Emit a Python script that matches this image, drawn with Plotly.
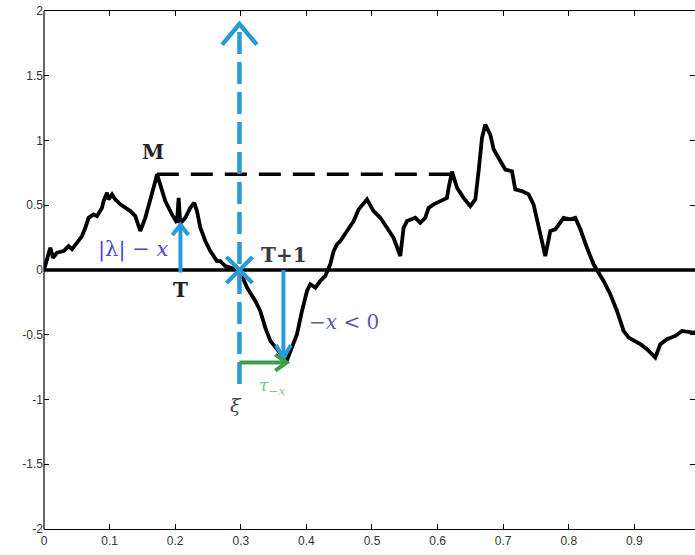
import plotly.graph_objects as go
import math

# ---- data: Brownian path ----
path_t = [0.0, 0.0096, 0.0137, 0.0198, 0.0299, 0.0375, 0.0427, 0.0503, 0.0579, 0.0630,
          0.0680, 0.0756, 0.0808, 0.0884, 0.0909, 0.0960, 0.0985, 0.1037, 0.1087, 0.1163,
          0.1239, 0.1316, 0.1392, 0.1468, 0.1544, 0.1620, 0.1697, 0.1723, 0.1773, 0.1849,
          0.1951, 0.2027, 0.2052, 0.2078, 0.2154, 0.2230, 0.2291, 0.2332, 0.2383, 0.2459,
          0.2535, 0.2637, 0.2688, 0.2764, 0.2840, 0.2980,
          0.3095, 0.3221, 0.3297, 0.3373, 0.3450, 0.3576, 0.3690, 0.3780, 0.3857, 0.3933,
          0.4009, 0.4059, 0.4136, 0.4212, 0.4288, 0.4364, 0.4415, 0.4466, 0.4517, 0.4619,
          0.4720, 0.4796, 0.4924, 0.5024, 0.5127, 0.5229, 0.5329, 0.5431, 0.5482, 0.5534,
          0.5660, 0.5736, 0.5812, 0.5863, 0.5939, 0.6041, 0.6143, 0.6168, 0.6220, 0.6296,
          0.6396, 0.6498, 0.6575, 0.6625, 0.6677, 0.6727, 0.6803, 0.6854, 0.6955, 0.7032,
          0.7134, 0.7184, 0.7287, 0.7387, 0.7463, 0.7540, 0.7642, 0.7718, 0.7794, 0.7921,
          0.8023, 0.8099, 0.8175, 0.8277, 0.8378, 0.8530, 0.8633, 0.8735, 0.8835, 0.8912,
          0.9091, 0.9192, 0.9319, 0.9396, 0.9497, 0.9624, 0.9726, 0.9902, 1.0]
path_w = [0.0, 0.172, 0.095, 0.133, 0.146, 0.185, 0.160, 0.210, 0.262, 0.326,
          0.403, 0.429, 0.416, 0.480, 0.532, 0.596, 0.545, 0.584, 0.545, 0.507,
          0.480, 0.455, 0.416, 0.301, 0.403, 0.532, 0.686, 0.740, 0.661, 0.532,
          0.429, 0.365, 0.557, 0.360, 0.403, 0.480, 0.519, 0.455, 0.326, 0.224,
          0.146, 0.069, 0.069, 0.031, 0.018, 0.0,
          -0.136, -0.239, -0.316, -0.445, -0.547, -0.625, -0.715, -0.599, -0.496, -0.316,
          -0.162, -0.110, -0.136, -0.085, -0.046, 0.044, 0.146, 0.198, 0.224, 0.301,
          0.378, 0.468, 0.545, 0.455, 0.403, 0.326, 0.249, 0.108, 0.326, 0.378,
          0.403, 0.365, 0.403, 0.480, 0.507, 0.532, 0.557, 0.635, 0.760, 0.635,
          0.557, 0.493, 0.545, 0.763, 1.020, 1.123, 1.046, 0.933, 0.840, 0.776,
          0.763, 0.622, 0.609, 0.584, 0.507, 0.326, 0.108, 0.301, 0.314, 0.403,
          0.391, 0.403, 0.316, 0.172, 0.044, -0.085, -0.187, -0.316, -0.470, -0.522,
          -0.573, -0.611, -0.676, -0.573, -0.534, -0.509, -0.470, -0.483, -0.48]

# key values of the sketch
M_t, M_level, M_end = 0.172, 0.74, 0.622   # running max and where the dashed level ends
xi = 0.298                                   # zero crossing xi
xi_dash = [-0.88, 1.90]                      # extent of dashed vertical at xi
T_t, T_arrow = [0.208], [-0.02, 0.35]        # |lambda|-x arrow
T1_t, T1_arrow = [0.365], [0.0, -0.68]       # -x<0 arrow
tau_arrow_x, tau_level = [0.298, 0.370], -0.715

x_ticks = [0, 0.1, 0.2, 0.3, 0.4, 0.5, 0.6, 0.7, 0.8, 0.9]
y_ticks = [-2, -1.5, -1, -0.5, 0, 0.5, 1, 1.5, 2]

BLUE = "#2A9AD6"
GREEN = "#3C9E4C"

# layout geometry (page body margin removed in the html)
W, H = 695, 555
ML, MR, MT, MB = 44, 0, 11, 26
XR = [0, 0.9924]
YR = [-2, 2]
sx = (W - ML - MR) / (XR[1] - XR[0])
sy = (H - MT - MB) / (YR[1] - YR[0])


def chevron(tx, ty, dirx, diry, length, half_angle_deg):
    ang = math.atan2(diry, dirx)
    xs, ys = [], []
    for s in (1, -1):
        a = ang + math.pi + s * math.radians(half_angle_deg)
        xs.append(tx + length * math.cos(a) / sx)
        ys.append(ty + length * math.sin(a) / sy)
    return [xs[0], tx, xs[1]], [ys[0], ty, ys[1]]


fig = go.Figure()

fig.add_trace(go.Scatter(x=[0, 1], y=[0, 0], mode="lines",
                         line=dict(color="black", width=3.5), hoverinfo="skip"))
fig.add_trace(go.Scatter(x=[M_t, M_end], y=[M_level, M_level], mode="lines",
                         line=dict(color="black", width=3.5, dash="22px,12px"), hoverinfo="skip"))
fig.add_trace(go.Scatter(x=path_t, y=path_w, mode="lines",
                         line=dict(color="black", width=3.8), hoverinfo="skip"))
fig.add_trace(go.Scatter(x=[xi, xi], y=xi_dash, mode="lines",
                         line=dict(color=BLUE, width=4.5, dash="22px,8px"), hoverinfo="skip"))
cx, cy = chevron(xi, xi_dash[1], 0, 1, 27, 40)
fig.add_trace(go.Scatter(x=cx, y=cy, mode="lines",
                         line=dict(color=BLUE, width=4.5), hoverinfo="skip"))
fig.add_trace(go.Scatter(x=[xi], y=[0], mode="markers",
                         marker=dict(symbol="x-thin", size=26, line=dict(color=BLUE, width=4)),
                         hoverinfo="skip"))
fig.add_trace(go.Scatter(x=T_t * 2, y=T_arrow, mode="lines",
                         line=dict(color=BLUE, width=4), hoverinfo="skip"))
cx, cy = chevron(T_t[0], T_arrow[1], 0, 1, 13, 38)
fig.add_trace(go.Scatter(x=cx, y=cy, mode="lines",
                         line=dict(color=BLUE, width=4), hoverinfo="skip"))
fig.add_trace(go.Scatter(x=T1_t * 2, y=T1_arrow, mode="lines",
                         line=dict(color=BLUE, width=4), hoverinfo="skip"))
cx, cy = chevron(T1_t[0], T1_arrow[1], 0, -1, 15, 30)
fig.add_trace(go.Scatter(x=cx, y=cy, mode="lines",
                         line=dict(color=BLUE, width=4), hoverinfo="skip"))
fig.add_trace(go.Scatter(x=tau_arrow_x, y=[tau_level, tau_level], mode="lines",
                         line=dict(color=GREEN, width=4), hoverinfo="skip"))
cx, cy = chevron(tau_arrow_x[1], tau_level, 1, 0, 14, 35)
fig.add_trace(go.Scatter(x=cx, y=cy, mode="lines",
                         line=dict(color=GREEN, width=4), hoverinfo="skip"))

SERIF = "DejaVu Serif"
labels = [
    (0.1666, 0.91, "<b>M</b>", 20, "#222222"),
    (0.136, 0.155, "|λ| − <i>x</i>", 21, "#4A44E0"),
    (0.208, -0.155, "<b>T</b>", 20, "#222222"),
    (0.366, 0.116, "<b>T+1</b>", 20, "#3A3A3A"),
    (0.458, -0.40, "−<i>x</i> &lt; 0", 20, "#5B5BA8"),
    (0.347, -0.90, "<i>τ</i><sub>−<i>x</i></sub>", 17, "#7CC47F"),
    (0.292, -1.04, "<i>ξ</i>", 19, "#444444"),
]
for lx, ly, txt, fs, col in labels:
    fig.add_annotation(x=lx, y=ly, text=txt, showarrow=False,
                       font=dict(family=SERIF, size=fs, color=col))

# left frame line (the right one lies just past the picture edge in the reference)
fig.add_shape(type="line", xref="paper", yref="paper", x0=0, x1=0, y0=0, y1=1,
              line=dict(color="black", width=1.2))

axis_font = dict(family="Liberation Sans", size=12, color="#333333")
fig.update_layout(
    width=W, height=H,
    margin=dict(l=ML, r=MR, t=MT, b=MB, autoexpand=False),
    plot_bgcolor="white", paper_bgcolor="white",
    showlegend=False,
    xaxis=dict(range=XR, tickvals=x_ticks, ticktext=[f"{v:g}" for v in x_ticks],
               showgrid=False, zeroline=False, showline=True, linecolor="black", linewidth=1.2,
               mirror="ticks", ticks="inside", ticklen=5, tickcolor="black",
               tickfont=axis_font, automargin=False, ticklabeloverflow="allow"),
    yaxis=dict(range=YR, tickvals=y_ticks, ticktext=[f"{v:g}" for v in y_ticks],
               showgrid=False, zeroline=False, showline=False,
               mirror="ticks", ticks="inside", ticklen=5, tickcolor="black",
               tickfont=axis_font, automargin=False, ticklabeloverflow="allow"),
)

fig.write_html("out.html", config={"displayModeBar": False},
               post_script="document.body.style.margin='0px';")
